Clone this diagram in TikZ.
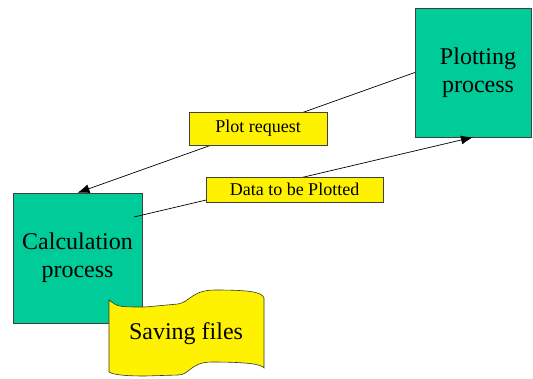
\documentclass[tikz,border=0pt]{standalone}
\usepackage{fontspec}
\setmainfont{Liberation Serif}
\newfontfamily\timesfont{Liberation Serif}
\usepackage{tikz}
\usetikzlibrary{arrows.meta,calc}

\definecolor{procgreen}{HTML}{00CC99}

\begin{document}
\begin{tikzpicture}[x=1pt,y=-1pt,
    process/.style={rectangle, draw=black!75, fill=procgreen, align=center, inner sep=0pt, font=\timesfont\fontsize{24}{28}\selectfont},
    msg/.style={rectangle, draw=black!75, fill=yellow, inner sep=0pt, font=\timesfont\fontsize{18}{20}\selectfont},
    flow/.style={draw, line width=0.7pt, -{Latex[length=12pt,width=9pt]}}]
    \useasboundingbox (0,0) rectangle (533,378);
    \node[process, minimum width=129pt, minimum height=130pt] (calc) at (77.5,258) {Calculation\\process};
    \node[process, minimum width=116pt, minimum height=129pt] (plot) at (473,72.5) {\hspace*{10pt}Plotting\\\hspace*{10pt}process};
    % request goes back to the calculation
    \draw[flow] (plot.west) -- (calc.north);
    \node[msg, minimum width=138pt, minimum height=33pt] (req) at (258,128.5) {Plot request};
    % data leaves from inside the calculation box
    \coordinate (dataout) at ($(calc.center)+(56.5,-41)$);
    \draw[flow] (dataout) -- (plot.south);
    \node[msg, minimum width=177pt, minimum height=25pt] (data) at (294.5,189.5) {Data to be Plotted};
    % banner for the files
    \draw[fill=yellow, draw=black!80, line width=0.6pt] (109,300) .. controls (118,307) .. (145,307) -- (178,304)
        .. controls (190,302) and (192,290) .. (215,290) .. controls (250,290) and (262,292) .. (264,298) -- (264,368)
        .. controls (262,364) and (245,362) .. (212,362) .. controls (190,362) and (190,375) .. (178,375)
        -- (145,376) .. controls (120,376) and (112,374) .. (109,372) -- cycle;
    \node[font=\timesfont\fontsize{24}{28}\selectfont] (save) at (186,334) {Saving files};
\end{tikzpicture}
\end{document}
